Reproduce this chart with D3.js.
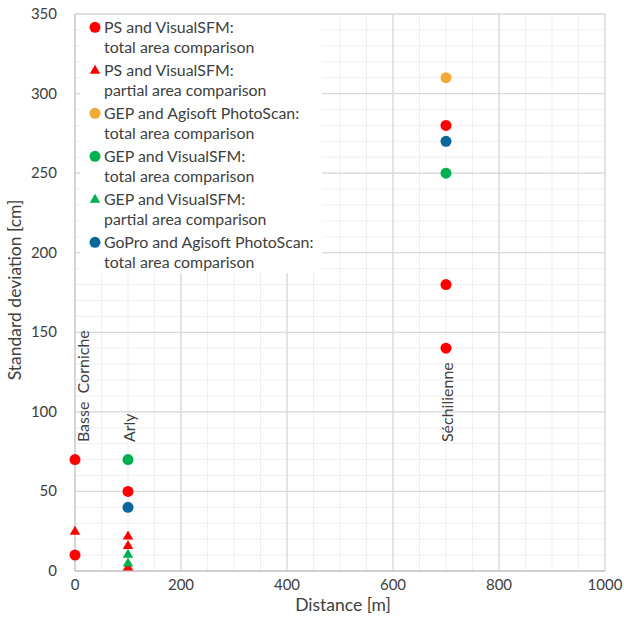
<!DOCTYPE html>
<html lang="en">
<head>
<meta charset="utf-8">
<title>Standard deviation vs distance</title>
<style>
body{margin:0;background:#fff;}
text{font-family:Lato, "Open Sans", sans-serif;fill:#404040;}
</style>
</head>
<body>
<script src="https://cdn.jsdelivr.net/npm/d3@7/dist/d3.min.js"></script>
<script>

var w = 624, h = 625;
var ml = 75, mr = 19, mt = 14, mb = 54;
var gw = w - ml - mr, gh = h - mt - mb;

// series (distance [m], std dev [cm])
var names = ["PS and VisualSFM:|total area comparison",
             "PS and VisualSFM:|partial area comparison",
             "GEP and Agisoft PhotoScan:|total area comparison",
             "GEP and VisualSFM:|total area comparison",
             "GEP and VisualSFM:|partial area comparison",
             "GoPro and Agisoft PhotoScan:|total area comparison"];
var colors = ["#ff0000", "#ff0000", "#f2a935", "#00b050", "#00b050", "#09679a"];
var shapes = ["circle", "triangle", "circle", "circle", "triangle", "circle"];

var psTotal    = [[0, 70], [0, 10], [100, 50], [700, 280], [700, 180], [700, 140]];
var psPartial  = [[0, 25], [100, 22], [100, 16], [100, 2.5]];
var gepPsTotal = [[700, 310]];
var gepVsTotal = [[100, 70], [700, 250]];
var gepVsPart  = [[100, 10.5], [100, 5]];
var goproTotal = [[100, 40], [700, 270]];
var series = [psTotal, psPartial, gepPsTotal, gepVsTotal, gepVsPart, goproTotal];

var siteNames = ["Basse  Corniche", "Arly", "Séchilienne"];
var siteDist = [0, 100, 700];

var xTicks = [0, 200, 400, 600, 800, 1000];
var yTicks = [0, 50, 100, 150, 200, 250, 300, 350];

var x = d3.scaleLinear().domain([0, 1000]).range([0, gw]);
var y = d3.scaleLinear().domain([0, 350]).range([gh, 0]);

var svg = d3.select("body").append("svg").attr("width", w).attr("height", h);
var g = svg.append("g").attr("transform", "translate(" + ml + "," + mt + ")");

// minor grid
g.append("g").selectAll("line").data(d3.range(50, 1001, 50)).enter().append("line")
  .attr("x1", d => x(d)).attr("x2", d => x(d)).attr("y1", 0).attr("y2", gh)
  .attr("stroke", "#efefef").attr("stroke-width", 1);
g.append("g").selectAll("line").data(d3.range(10, 351, 10)).enter().append("line")
  .attr("x1", 0).attr("x2", gw).attr("y1", d => y(d)).attr("y2", d => y(d))
  .attr("stroke", "#efefef").attr("stroke-width", 1);

// major grid
g.append("g").selectAll("line").data(xTicks.slice(1)).enter().append("line")
  .attr("x1", d => x(d)).attr("x2", d => x(d)).attr("y1", 0).attr("y2", gh)
  .attr("stroke", "#d9d9d9").attr("stroke-width", 1.3);
g.append("g").selectAll("line").data(yTicks.slice(1)).enter().append("line")
  .attr("x1", 0).attr("x2", gw).attr("y1", d => y(d)).attr("y2", d => y(d))
  .attr("stroke", "#d9d9d9").attr("stroke-width", 1.3);

// axes lines
g.append("line").attr("x1", 0).attr("x2", 0).attr("y1", 0).attr("y2", gh)
  .attr("stroke", "#bfbfbf").attr("stroke-width", 1.3);
g.append("line").attr("x1", 0).attr("x2", gw).attr("y1", gh).attr("y2", gh)
  .attr("stroke", "#bfbfbf").attr("stroke-width", 1.3);

// tick labels
g.append("g").selectAll("text").data(xTicks).enter().append("text")
  .attr("x", d => x(d)).attr("y", gh + 19)
  .attr("text-anchor", "middle").attr("font-size", "15px").text(d => d);
g.append("g").selectAll("text").data(yTicks).enter().append("text")
  .attr("x", -18).attr("y", d => y(d) + 5)
  .attr("text-anchor", "end").attr("font-size", "15px").text(d => d);

// axis titles
g.append("text").attr("x", 268).attr("y", gh + 40)
  .attr("text-anchor", "middle").attr("font-size", "17.5px").text("Distance [m]");
g.append("text").attr("transform", "translate(" + (-54) + "," + (290 - mt) + ") rotate(-90)")
  .attr("text-anchor", "middle").attr("font-size", "17.5px").text("Standard deviation [cm]");

// site labels
g.append("g").selectAll("text").data(siteNames).enter().append("text")
  .attr("transform", function(d, i){
    var tx = x(siteDist[i]) + (i == 0 ? 14 : 7);
    return "translate(" + tx + "," + y(81) + ") rotate(-90)";
  })
  .attr("text-anchor", "start").attr("font-size", "16px")
  .style("white-space", "pre").attr("xml:space", "preserve")
  .text(d => d);

// legend box
var lg = g.append("g");
lg.append("rect").attr("x", 5).attr("y", 1).attr("width", 242).attr("height", 258).attr("fill", "#fff");

var tri = d3.symbol().type(d3.symbolTriangle).size(48);

function marker(sel, shape, color){
  if(shape == "circle"){
    sel.append("circle").attr("r", 5.5).attr("fill", color);
  } else {
    sel.append("path").attr("d", tri).attr("fill", color).attr("transform", "translate(0,0.5)");
  }
}

// points
series.forEach(function(data, si){
  var sg = g.append("g");
  data.forEach(function(p){
    var m = sg.append("g").attr("transform", "translate(" + x(p[0]) + "," + y(p[1]) + ")");
    marker(m, shapes[si], colors[si]);
  });
});

// legend entries
names.forEach(function(n, i){
  var ey = 13.3 + i * 43;
  var e = lg.append("g").attr("transform", "translate(20," + ey + ")");
  marker(e, shapes[i], colors[i]);
  var parts = n.split("|");
  e.append("text").attr("x", 9).attr("y", 5.5).attr("font-size", "15.9px").text(parts[0]);
  e.append("text").attr("x", 9).attr("y", 26.2).attr("font-size", "15.9px").text(parts[1]);
});

</script>
</body>
</html>
